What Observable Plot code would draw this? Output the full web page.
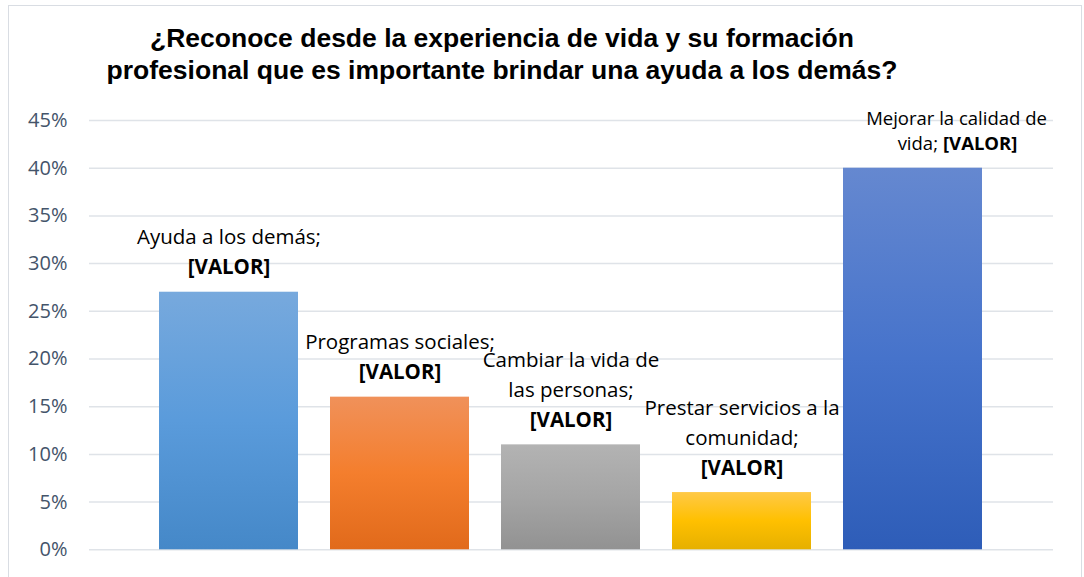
<!DOCTYPE html>
<html>
<head>
<meta charset="utf-8">
<script src="https://cdn.jsdelivr.net/npm/d3@7"></script>
<script src="https://cdn.jsdelivr.net/npm/@observablehq/plot@0.6"></script>
<style>
  body { margin: 0; background: #fff; }
  #wrap { position: relative; width: 1084px; height: 577px; overflow: hidden; background: #fff; }
  #frame { position: absolute; left: 8px; top: 5px; width: 1074px; height: 620px; border: 1.5px solid #d9dde3; box-sizing: border-box; pointer-events: none; }
  #title { position: absolute; left: 0; top: 22px; width: 1004px; text-align: center; font: bold 26.5px "Liberation Sans", Arial, sans-serif; line-height: 32px; color: #000; }
  #chart { position: absolute; left: 0; top: 90px; }
</style>
</head>
<body>
<div id="wrap">
  <div id="frame"></div>
  <div id="title">¿Reconoce desde la experiencia de vida y su formación<br>profesional que es importante brindar una ayuda a los demás?</div>
  <div id="chart"></div>
</div>
<script>
// ---- data ----
const categories = [
  "Ayuda a los demás",
  "Programas sociales",
  "Cambiar la vida de las personas",
  "Prestar servicios a la comunidad",
  "Mejorar la calidad de vida"
];
const values = [0.27, 0.16, 0.11, 0.06, 0.40];
const labelLines = [
  ["Ayuda a los demás;"],
  ["Programas sociales;"],
  ["Cambiar la vida de", "las personas;"],
  ["Prestar servicios a la", "comunidad;"],
  ["Mejorar la calidad de", "vida;"]
];
const valueText = "[VALOR]";
const yTicks = [0, 0.05, 0.10, 0.15, 0.20, 0.25, 0.30, 0.35, 0.40, 0.45];
const gradientStops = [
  ["#77a9dd", "#5a9bdb", "#4588c8"],
  ["#f0915a", "#f47e2d", "#e16a1b"],
  ["#b3b3b3", "#a5a5a5", "#929292"],
  ["#ffc947", "#ffc000", "#e6b000"],
  ["#6588d0", "#4673cb", "#2e5db8"]
];
const inlineCategory = categories[4];

// ---- gradients ----
const defs = d3.select("body").append("svg")
  .attr("width", 0).attr("height", 0)
  .style("position", "absolute")
  .append("defs");
gradientStops.forEach((stops, i) => {
  const g = defs.append("linearGradient").attr("id", "grad" + i)
    .attr("x1", 0).attr("y1", 0).attr("x2", 0).attr("y2", 1);
  stops.forEach((c, j) => g.append("stop").attr("offset", j / (stops.length - 1)).attr("stop-color", c));
});

const bars = categories.map((c, i) => ({category: c, value: values[i], fill: `url(#grad${i})`}));
const labelRows = categories.flatMap((c, i) =>
  labelLines[i].map((t, j) => ({category: c, value: values[i], text: t, k: labelLines[i].length - j}))
);
const isInline = d => d.category === inlineCategory;

const labelFont = "'Open Sans', Lato, sans-serif";
const labelSize = 20.5;
const inlineSize = 18.5;

const chart = Plot.plot({
  width: 1084,
  height: 487,
  marginTop: 30,
  marginBottom: 27.7,
  marginLeft: 89,
  marginRight: 31,
  style: {fontFamily: labelFont, background: "transparent", overflow: "visible"},
  x: {domain: categories, paddingInner: 0.1866, paddingOuter: 0.0933, insetLeft: 53, insetRight: 53, axis: null},
  y: {domain: [0, 0.45], axis: null},
  color: {type: "identity"},
  marks: [
    Plot.ruleY(yTicks, {stroke: "#dfe3e8", strokeWidth: 1.5}),
    Plot.barY(bars, {x: "category", y: "value", fill: "fill"}),
    Plot.axisY({
      ticks: yTicks, tickSize: 0, tickPadding: 22, label: null,
      tickFormat: d => Math.round(d * 100) + "%",
      fontSize: 20, fill: "#44546a", fontFamily: labelFont
    }),
    // normal label lines (non-inline bars)
    Plot.text(labelRows, {filter: d => !isInline(d) && d.k === 1, x: "category", y: "value", text: "text",
      dy: -54.5, fontSize: labelSize, fill: "#000"}),
    Plot.text(labelRows, {filter: d => !isInline(d) && d.k === 2, x: "category", y: "value", text: "text",
      dy: -84, fontSize: labelSize, fill: "#000"}),
    Plot.text(bars, {filter: d => !isInline(d), x: "category", y: "value", text: () => valueText,
      dy: -24.5, fontSize: labelSize, fontWeight: "bold", fill: "#000"}),
    // inline label (last bar)
    Plot.text(labelRows, {filter: d => isInline(d) && d.k === 2, x: "category", y: "value", text: "text",
      dx: 43.5, dy: -49.6, fontSize: inlineSize, fill: "#000"}),
    Plot.text(labelRows, {filter: d => isInline(d) && d.k === 1, x: "category", y: "value", text: "text",
      dx: 25, dy: -24.6, textAnchor: "end", fontSize: inlineSize, fill: "#000"}),
    Plot.text(bars, {filter: d => isInline(d), x: "category", y: "value", text: () => valueText,
      dx: 30, dy: -24.6, textAnchor: "start", fontSize: inlineSize, fontWeight: "bold", fill: "#000"})
  ]
});
document.getElementById("chart").appendChild(chart);
</script>
</body>
</html>
